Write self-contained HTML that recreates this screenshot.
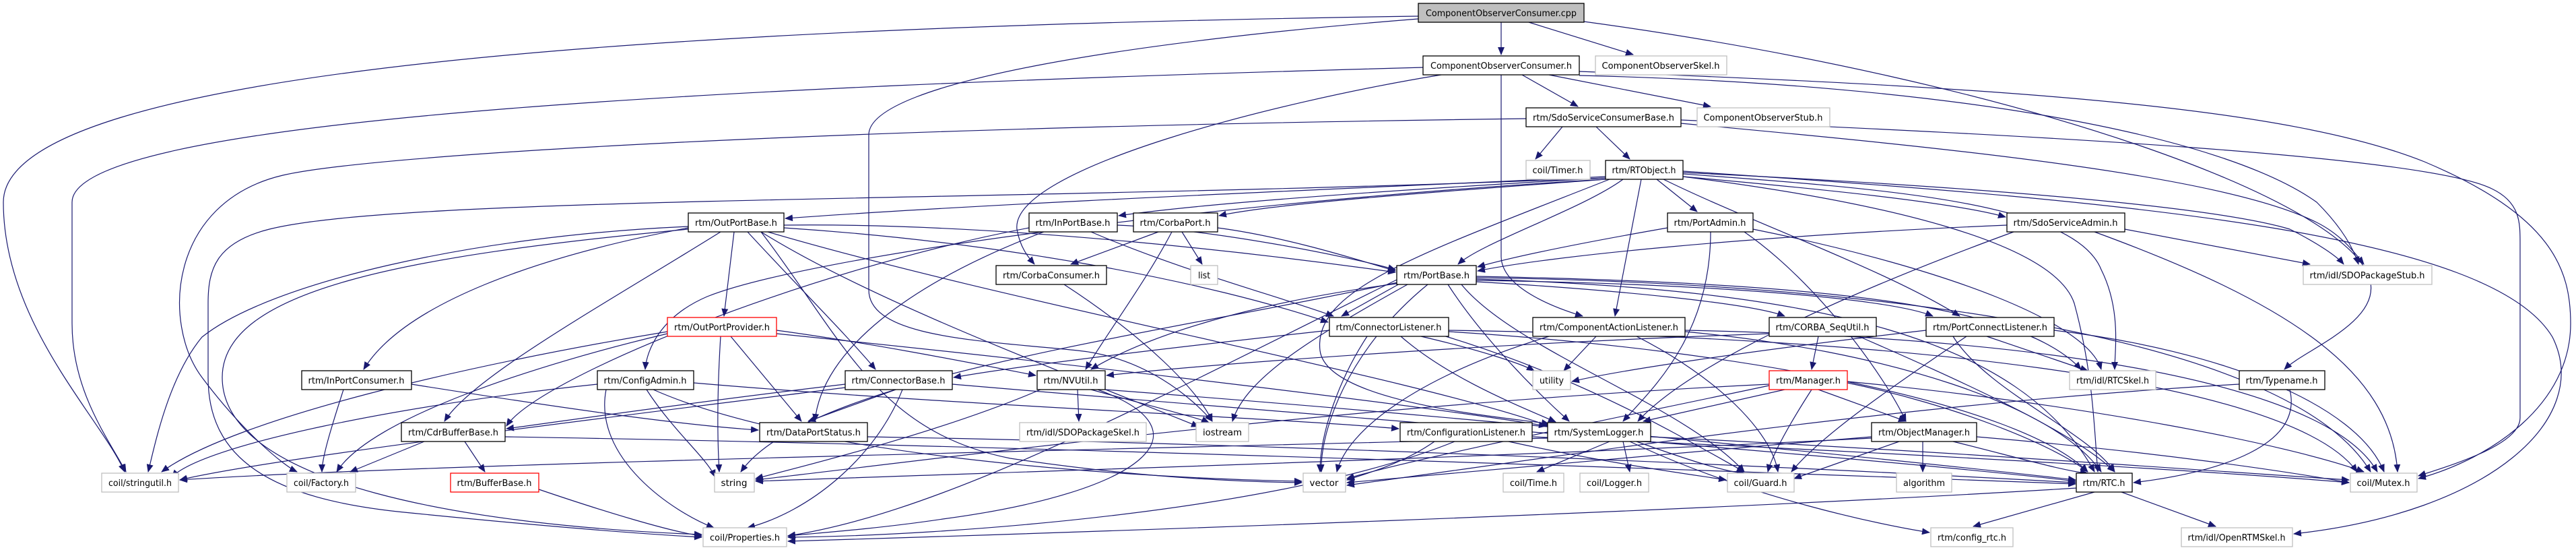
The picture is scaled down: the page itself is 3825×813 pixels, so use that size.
<!DOCTYPE html>
<html><head><meta charset="utf-8"><style>
html,body{margin:0;padding:0;background:#fff;}
svg{display:block;}
text{font-family:"DejaVu Sans","Liberation Sans",sans-serif;font-size:13px;fill:#000;}
.e path{fill:none;stroke:#191970;stroke-width:1.2;}
.n rect{fill:#fff;stroke:#000;stroke-width:1.3;}
.n rect.g{stroke:#bfbfbf;}
.n rect.r{stroke:#ff0000;}
.n rect.c{fill:#bfbfbf;}
</style></head><body>
<svg width="3825" height="813" viewBox="0 0 3825 813" xmlns="http://www.w3.org/2000/svg">
<defs><marker id="a" markerWidth="12" markerHeight="10" refX="11" refY="5" orient="auto" markerUnits="userSpaceOnUse"><path d="M0,0 L12,5 L0,10z" fill="#191970"/></marker></defs>
<g class="e" marker-end="url(#a)">
<path d="M2229,33 L2229,81" marker-end="url(#a)"/>
<path d="M2270,33 L2425,81" marker-end="url(#a)"/>
<path d="M2106,24 C1000,40 5,100 5,300 C5,480 150,620 185,700" marker-end="url(#a)"/>
<path d="M2106,28 C1700,60 1290,120 1290,200 L1290,430 C1290,500 1450,505 1600,520 C1700,530 1770,590 1800,625" marker-end="url(#a)"/>
<path d="M2352,32 C3000,120 3500,300 3520,420 C3530,480 3420,520 3392,548" marker-end="url(#a)"/>
<path d="M2260,111 L2343,158" marker-end="url(#a)"/>
<path d="M2300,111 L2540,158" marker-end="url(#a)"/>
<path d="M2229,111 L2229,380 C2229,430 2320,460 2350,469" marker-end="url(#a)"/>
<path d="M2114,100 C1000,130 107,180 107,300 L107,480 C107,580 160,650 187,700" marker-end="url(#a)"/>
<path d="M2140,111 C1900,150 1500,250 1510,340 C1515,370 1530,385 1536,392" marker-end="url(#a)"/>
<path d="M2345,112 C2900,125 3300,200 3440,300 C3480,340 3495,370 3502,392" marker-end="url(#a)"/>
<path d="M2345,106 C3000,130 3400,160 3600,240 C3790,320 3817,400 3817,480 C3817,600 3700,680 3591,710" marker-end="url(#a)"/>
<path d="M2266,176 C1200,190 550,230 420,260 C250,300 240,480 300,560 C360,640 420,690 441,700" marker-end="url(#a)"/>
<path d="M2320,188 L2280,236" marker-end="url(#a)"/>
<path d="M2370,188 L2420,236" marker-end="url(#a)"/>
<path d="M2496,183 C2900,220 3300,260 3440,330 C3480,350 3500,380 3510,392" marker-end="url(#a)"/>
<path d="M2496,178 C3000,200 3600,230 3700,280 C3742,300 3742,330 3742,360 L3742,620 C3742,660 3640,690 3591,706" marker-end="url(#a)"/>
<path d="M2460,266 L2520,314" marker-end="url(#a)"/>
<path d="M2410,266 C2350,310 2200,360 2165,392" marker-end="url(#a)"/>
<path d="M2437,266 L2398,469" marker-end="url(#a)"/>
<path d="M2384,262 C2000,280 1500,300 1166,324" marker-end="url(#a)"/>
<path d="M2384,264 C2100,280 1800,300 1661,320" marker-end="url(#a)"/>
<path d="M2384,266 C2200,280 1900,300 1810,320" marker-end="url(#a)"/>
<path d="M2384,266 C1800,300 1200,380 1050,440 C980,470 960,520 958,548" marker-end="url(#a)"/>
<path d="M2384,264 C1500,300 600,290 400,340 C320,360 309,400 309,450 L309,560 C309,680 400,740 600,760 C800,780 950,792 1042,797" marker-end="url(#a)"/>
<path d="M2499,262 C2800,300 3050,360 3080,450 C3110,560 3110,650 3115,700" marker-end="url(#a)"/>
<path d="M2499,258 C2800,280 3080,300 3120,400 C3150,460 3140,520 3140,548" marker-end="url(#a)"/>
<path d="M2499,256 C3000,280 3300,310 3400,340 C3440,360 3470,380 3480,392" marker-end="url(#a)"/>
<path d="M2499,254 C3200,300 3700,350 3790,500 C3850,620 3700,760 3406,792" marker-end="url(#a)"/>
<path d="M2470,266 C2600,330 2800,400 2910,469" marker-end="url(#a)"/>
<path d="M2499,262 C2700,280 2900,300 2978,322" marker-end="url(#a)"/>
<path d="M2390,266 C2100,380 1950,430 1960,520 C1970,600 2250,620 2300,629" marker-end="url(#a)"/>
<path d="M2476,338 C2350,360 2250,380 2194,396" marker-end="url(#a)"/>
<path d="M2540,344 C2540,500 2450,580 2410,625" marker-end="url(#a)"/>
<path d="M2590,344 C2700,420 2800,560 2830,625" marker-end="url(#a)"/>
<path d="M2603,340 C2900,400 3100,480 3120,548" marker-end="url(#a)"/>
<path d="M3155,340 L3430,392" marker-end="url(#a)"/>
<path d="M3110,344 C3400,450 3550,550 3560,700" marker-end="url(#a)"/>
<path d="M2990,344 C2700,450 2500,550 2432,625" marker-end="url(#a)"/>
<path d="M2980,334 C2600,350 2300,380 2194,402" marker-end="url(#a)"/>
<path d="M2080,420 L1992,469" marker-end="url(#a)"/>
<path d="M2192,418 C2400,430 2600,450 2650,469" marker-end="url(#a)"/>
<path d="M2192,416 C2500,420 2800,440 2870,469" marker-end="url(#a)"/>
<path d="M2080,420 C1850,450 1700,500 1620,548" marker-end="url(#a)"/>
<path d="M2150,422 C2200,500 2280,580 2330,625" marker-end="url(#a)"/>
<path d="M2170,422 C2250,520 2500,600 2590,700" marker-end="url(#a)"/>
<path d="M2192,412 C2800,420 3400,500 3520,700" marker-end="url(#a)"/>
<path d="M2192,414 C2700,430 3000,500 3110,700" marker-end="url(#a)"/>
<path d="M2192,410 C2700,420 3000,450 3090,548" marker-end="url(#a)"/>
<path d="M2080,418 C1700,500 1200,560 1100,700" marker-end="url(#a)"/>
<path d="M2120,422 C2000,520 1960,640 1962,700" marker-end="url(#a)"/>
<path d="M2090,422 C1950,500 1850,560 1830,625" marker-end="url(#a)"/>
<path d="M2074,415 C1700,600 1400,760 1170,795" marker-end="url(#a)"/>
<path d="M2110,499 C2200,520 2260,540 2278,550" marker-end="url(#a)"/>
<path d="M2030,499 C1990,560 1960,640 1960,700" marker-end="url(#a)"/>
<path d="M2080,499 C2150,560 2250,600 2310,626" marker-end="url(#a)"/>
<path d="M2140,497 C2350,560 2500,650 2590,700" marker-end="url(#a)"/>
<path d="M1974,490 C1700,520 1500,545 1416,560" marker-end="url(#a)"/>
<path d="M2151,492 C2600,520 3000,600 3100,700" marker-end="url(#a)"/>
<path d="M2151,490 C2800,500 3400,560 3500,700" marker-end="url(#a)"/>
<path d="M2370,499 L2322,550" marker-end="url(#a)"/>
<path d="M2300,499 C2100,560 2000,640 1985,700" marker-end="url(#a)"/>
<path d="M2430,499 C2550,560 2630,640 2640,700" marker-end="url(#a)"/>
<path d="M2502,492 C2800,520 3050,600 3120,700" marker-end="url(#a)"/>
<path d="M2502,490 C3000,500 3450,560 3530,700" marker-end="url(#a)"/>
<path d="M2700,499 L2690,548" marker-end="url(#a)"/>
<path d="M2627,495 C2200,510 1800,540 1643,557" marker-end="url(#a)"/>
<path d="M2760,499 C2900,560 3080,640 3140,700" marker-end="url(#a)"/>
<path d="M2950,499 L3100,550" marker-end="url(#a)"/>
<path d="M2900,499 C2950,580 3100,640 3140,700" marker-end="url(#a)"/>
<path d="M3050,490 C3300,520 3500,600 3540,700" marker-end="url(#a)"/>
<path d="M2920,499 C2800,580 2700,650 2660,700" marker-end="url(#a)"/>
<path d="M2860,490 C2600,520 2400,550 2334,566" marker-end="url(#a)"/>
<path d="M1090,344 L1075,469" marker-end="url(#a)"/>
<path d="M1110,344 C1180,420 1260,500 1300,548" marker-end="url(#a)"/>
<path d="M1070,344 C900,450 700,560 660,625" marker-end="url(#a)"/>
<path d="M1022,338 C800,380 600,450 540,548" marker-end="url(#a)"/>
<path d="M1022,336 C700,350 400,420 300,500 C250,560 230,660 220,700" marker-end="url(#a)"/>
<path d="M1022,340 C600,380 330,430 330,560 C330,720 700,780 1042,793" marker-end="url(#a)"/>
<path d="M1164,334 C1500,330 1900,380 2072,404" marker-end="url(#a)"/>
<path d="M1164,338 C1500,360 1800,420 1972,478" marker-end="url(#a)"/>
<path d="M1140,344 C1500,450 2100,560 2300,632" marker-end="url(#a)"/>
<path d="M1130,344 C1300,450 1600,560 1780,633" marker-end="url(#a)"/>
<path d="M1130,344 C1250,500 1300,640 1500,680 C1700,710 1850,715 1933,716" marker-end="url(#a)"/>
<path d="M1659,334 C1800,340 2000,380 2072,400" marker-end="url(#a)"/>
<path d="M1550,344 C1350,420 1220,520 1210,625" marker-end="url(#a)"/>
<path d="M1528,338 C1200,400 800,560 752,632" marker-end="url(#a)"/>
<path d="M1620,344 C1750,400 1900,440 1980,469" marker-end="url(#a)"/>
<path d="M1720,344 L1590,392" marker-end="url(#a)"/>
<path d="M1755,344 L1785,392" marker-end="url(#a)"/>
<path d="M1740,344 C1700,420 1640,500 1612,548" marker-end="url(#a)"/>
<path d="M1808,338 C1900,350 2000,380 2072,402" marker-end="url(#a)"/>
<path d="M1580,422 C1700,500 1780,580 1800,625" marker-end="url(#a)"/>
<path d="M1085,499 L1190,625" marker-end="url(#a)"/>
<path d="M1070,499 C1065,580 1065,650 1068,700" marker-end="url(#a)"/>
<path d="M1153,490 C1300,510 1450,540 1538,557" marker-end="url(#a)"/>
<path d="M991,495 C800,540 550,620 500,700" marker-end="url(#a)"/>
<path d="M991,492 C700,540 350,620 240,700" marker-end="url(#a)"/>
<path d="M1153,495 C1600,540 2100,600 2296,632" marker-end="url(#a)"/>
<path d="M960,578 C1000,640 1050,680 1062,708" marker-end="url(#a)"/>
<path d="M900,578 C880,680 1000,760 1060,783" marker-end="url(#a)"/>
<path d="M887,570 C600,600 300,660 255,708" marker-end="url(#a)"/>
<path d="M1030,568 C1400,600 1900,620 2077,636" marker-end="url(#a)"/>
<path d="M970,578 C1200,680 1700,710 1933,714" marker-end="url(#a)"/>
<path d="M1330,578 L1200,625" marker-end="url(#a)"/>
<path d="M1340,578 C1300,680 1200,760 1110,783" marker-end="url(#a)"/>
<path d="M1255,570 C1000,600 800,630 752,636" marker-end="url(#a)"/>
<path d="M1255,575 C900,620 400,680 267,712" marker-end="url(#a)"/>
<path d="M1414,570 C2000,620 2800,680 3082,714" marker-end="url(#a)"/>
<path d="M1600,578 L1602,625" marker-end="url(#a)"/>
<path d="M1620,578 C1700,600 1780,620 1795,627" marker-end="url(#a)"/>
<path d="M1545,578 C1400,640 1200,690 1122,710" marker-end="url(#a)"/>
<path d="M1630,578 C1800,640 1700,730 1400,770 C1300,785 1200,792 1170,795" marker-end="url(#a)"/>
<path d="M1641,578 C2200,620 2800,680 3082,712" marker-end="url(#a)"/>
<path d="M510,578 C490,640 478,680 478,700" marker-end="url(#a)"/>
<path d="M611,570 C800,600 1000,630 1126,638" marker-end="url(#a)"/>
<path d="M690,655 L720,700" marker-end="url(#a)"/>
<path d="M630,655 L520,700" marker-end="url(#a)"/>
<path d="M750,648 C1500,660 2600,700 3082,718" marker-end="url(#a)"/>
<path d="M800,726 C900,760 1000,790 1042,795" marker-end="url(#a)"/>
<path d="M1288,648 C2000,660 2800,700 3082,716" marker-end="url(#a)"/>
<path d="M2130,655 C2080,690 2020,705 2000,712" marker-end="url(#a)"/>
<path d="M2160,655 C1900,760 1400,795 1170,797" marker-end="url(#a)"/>
<path d="M2275,648 C2800,670 3300,700 3488,716" marker-end="url(#a)"/>
<path d="M2240,655 C2400,690 2520,705 2563,712" marker-end="url(#a)"/>
<path d="M2390,655 L2282,700" marker-end="url(#a)"/>
<path d="M2410,655 L2420,700" marker-end="url(#a)"/>
<path d="M2430,655 C2500,680 2560,700 2590,702" marker-end="url(#a)"/>
<path d="M2451,648 C2900,670 3300,700 3488,712" marker-end="url(#a)"/>
<path d="M2420,655 C2600,740 2800,780 2865,790" marker-end="url(#a)"/>
<path d="M2298,650 C1500,670 600,690 267,712" marker-end="url(#a)"/>
<path d="M2700,578 L2830,625" marker-end="url(#a)"/>
<path d="M2650,578 L2440,625" marker-end="url(#a)"/>
<path d="M2690,578 C2650,640 2630,680 2625,700" marker-end="url(#a)"/>
<path d="M2743,568 C2900,600 3050,660 3100,700" marker-end="url(#a)"/>
<path d="M2743,566 C3100,600 3400,660 3510,700" marker-end="url(#a)"/>
<path d="M2627,572 C2400,620 2100,680 2000,710" marker-end="url(#a)"/>
<path d="M2627,570 C2000,600 1400,680 1122,712" marker-end="url(#a)"/>
<path d="M2855,655 L2855,700" marker-end="url(#a)"/>
<path d="M2820,655 L2664,710" marker-end="url(#a)"/>
<path d="M2900,655 C3000,680 3070,700 3100,702" marker-end="url(#a)"/>
<path d="M2935,648 C3200,670 3400,700 3488,716" marker-end="url(#a)"/>
<path d="M2779,648 C2500,670 2200,700 2000,716" marker-end="url(#a)"/>
<path d="M2779,650 C2200,680 1500,700 1122,714" marker-end="url(#a)"/>
<path d="M3400,578 C3420,660 3300,700 3168,716" marker-end="url(#a)"/>
<path d="M3325,570 C2800,600 2300,680 2000,720" marker-end="url(#a)"/>
<path d="M3110,730 L2930,781" marker-end="url(#a)"/>
<path d="M3150,730 L3290,781" marker-end="url(#a)"/>
<path d="M3084,724 C2500,760 1600,790 1170,803" marker-end="url(#a)"/>
</g>
<g class="n">
<rect class="c" x="2106" y="5" width="246" height="28"/><text x="2229" y="24" text-anchor="middle" textLength="224" lengthAdjust="spacingAndGlyphs">ComponentObserverConsumer.cpp</text>
<rect x="2113" y="83" width="232" height="28"/><text x="2229" y="102" text-anchor="middle" textLength="210" lengthAdjust="spacingAndGlyphs">ComponentObserverConsumer.h</text>
<rect class="g" x="2369" y="83" width="195" height="28"/><text x="2466" y="102" text-anchor="middle" textLength="175" lengthAdjust="spacingAndGlyphs">ComponentObserverSkel.h</text>
<rect x="2266" y="160" width="230" height="28"/><text x="2381" y="179" text-anchor="middle" textLength="210" lengthAdjust="spacingAndGlyphs">rtm/SdoServiceConsumerBase.h</text>
<rect class="g" x="2520" y="160" width="197" height="28"/><text x="2618" y="179" text-anchor="middle" textLength="177" lengthAdjust="spacingAndGlyphs">ComponentObserverStub.h</text>
<rect class="g" x="2266" y="238" width="95" height="28"/><text x="2313" y="257" text-anchor="middle" textLength="75" lengthAdjust="spacingAndGlyphs">coil/Timer.h</text>
<rect x="2384" y="238" width="115" height="28"/><text x="2441" y="257" text-anchor="middle" textLength="95" lengthAdjust="spacingAndGlyphs">rtm/RTObject.h</text>
<rect x="1022" y="316" width="142" height="28"/><text x="1093" y="335" text-anchor="middle" textLength="122" lengthAdjust="spacingAndGlyphs">rtm/OutPortBase.h</text>
<rect x="1528" y="316" width="131" height="28"/><text x="1593" y="335" text-anchor="middle" textLength="111" lengthAdjust="spacingAndGlyphs">rtm/InPortBase.h</text>
<rect x="1683" y="316" width="125" height="28"/><text x="1745" y="335" text-anchor="middle" textLength="105" lengthAdjust="spacingAndGlyphs">rtm/CorbaPort.h</text>
<rect x="2476" y="316" width="127" height="28"/><text x="2539" y="335" text-anchor="middle" textLength="107" lengthAdjust="spacingAndGlyphs">rtm/PortAdmin.h</text>
<rect x="2980" y="316" width="175" height="28"/><text x="3067" y="335" text-anchor="middle" textLength="155" lengthAdjust="spacingAndGlyphs">rtm/SdoServiceAdmin.h</text>
<rect x="1479" y="394" width="164" height="28"/><text x="1561" y="413" text-anchor="middle" textLength="144" lengthAdjust="spacingAndGlyphs">rtm/CorbaConsumer.h</text>
<rect class="g" x="1768" y="394" width="40" height="28"/><text x="1788" y="413" text-anchor="middle" textLength="18" lengthAdjust="spacingAndGlyphs">list</text>
<rect x="2074" y="394" width="118" height="28"/><text x="2133" y="413" text-anchor="middle" textLength="98" lengthAdjust="spacingAndGlyphs">rtm/PortBase.h</text>
<rect class="g" x="3420" y="394" width="191" height="28"/><text x="3515" y="413" text-anchor="middle" textLength="171" lengthAdjust="spacingAndGlyphs">rtm/idl/SDOPackageStub.h</text>
<rect class="r" x="991" y="471" width="162" height="28"/><text x="1072" y="490" text-anchor="middle" textLength="142" lengthAdjust="spacingAndGlyphs">rtm/OutPortProvider.h</text>
<rect x="1974" y="471" width="177" height="28"/><text x="2062" y="490" text-anchor="middle" textLength="157" lengthAdjust="spacingAndGlyphs">rtm/ConnectorListener.h</text>
<rect x="2276" y="471" width="226" height="28"/><text x="2389" y="490" text-anchor="middle" textLength="206" lengthAdjust="spacingAndGlyphs">rtm/ComponentActionListener.h</text>
<rect x="2627" y="471" width="159" height="28"/><text x="2706" y="490" text-anchor="middle" textLength="139" lengthAdjust="spacingAndGlyphs">rtm/CORBA_SeqUtil.h</text>
<rect x="2860" y="471" width="190" height="28"/><text x="2955" y="490" text-anchor="middle" textLength="170" lengthAdjust="spacingAndGlyphs">rtm/PortConnectListener.h</text>
<rect x="448" y="550" width="163" height="28"/><text x="529" y="569" text-anchor="middle" textLength="143" lengthAdjust="spacingAndGlyphs">rtm/InPortConsumer.h</text>
<rect x="887" y="550" width="143" height="28"/><text x="958" y="569" text-anchor="middle" textLength="123" lengthAdjust="spacingAndGlyphs">rtm/ConfigAdmin.h</text>
<rect x="1255" y="550" width="159" height="28"/><text x="1334" y="569" text-anchor="middle" textLength="139" lengthAdjust="spacingAndGlyphs">rtm/ConnectorBase.h</text>
<rect x="1540" y="550" width="101" height="28"/><text x="1590" y="569" text-anchor="middle" textLength="81" lengthAdjust="spacingAndGlyphs">rtm/NVUtil.h</text>
<rect class="g" x="2276" y="550" width="56" height="28"/><text x="2304" y="569" text-anchor="middle" textLength="36" lengthAdjust="spacingAndGlyphs">utility</text>
<rect class="r" x="2627" y="550" width="116" height="28"/><text x="2685" y="569" text-anchor="middle" textLength="96" lengthAdjust="spacingAndGlyphs">rtm/Manager.h</text>
<rect class="g" x="3073" y="550" width="128" height="28"/><text x="3137" y="569" text-anchor="middle" textLength="108" lengthAdjust="spacingAndGlyphs">rtm/idl/RTCSkel.h</text>
<rect x="3325" y="550" width="127" height="28"/><text x="3388" y="569" text-anchor="middle" textLength="107" lengthAdjust="spacingAndGlyphs">rtm/Typename.h</text>
<rect x="596" y="627" width="154" height="28"/><text x="673" y="646" text-anchor="middle" textLength="134" lengthAdjust="spacingAndGlyphs">rtm/CdrBufferBase.h</text>
<rect x="1128" y="627" width="160" height="28"/><text x="1208" y="646" text-anchor="middle" textLength="140" lengthAdjust="spacingAndGlyphs">rtm/DataPortStatus.h</text>
<rect class="g" x="1514" y="627" width="188" height="28"/><text x="1608" y="646" text-anchor="middle" textLength="168" lengthAdjust="spacingAndGlyphs">rtm/idl/SDOPackageSkel.h</text>
<rect class="g" x="1776" y="627" width="78" height="28"/><text x="1815" y="646" text-anchor="middle" textLength="58" lengthAdjust="spacingAndGlyphs">iostream</text>
<rect x="2079" y="627" width="196" height="28"/><text x="2177" y="646" text-anchor="middle" textLength="176" lengthAdjust="spacingAndGlyphs">rtm/ConfigurationListener.h</text>
<rect x="2298" y="627" width="153" height="28"/><text x="2374" y="646" text-anchor="middle" textLength="133" lengthAdjust="spacingAndGlyphs">rtm/SystemLogger.h</text>
<rect x="2779" y="627" width="156" height="28"/><text x="2857" y="646" text-anchor="middle" textLength="136" lengthAdjust="spacingAndGlyphs">rtm/ObjectManager.h</text>
<rect class="g" x="151" y="702" width="114" height="28"/><text x="208" y="721" text-anchor="middle" textLength="94" lengthAdjust="spacingAndGlyphs">coil/stringutil.h</text>
<rect class="g" x="426" y="702" width="102" height="28"/><text x="477" y="721" text-anchor="middle" textLength="82" lengthAdjust="spacingAndGlyphs">coil/Factory.h</text>
<rect class="r" x="669" y="702" width="131" height="28"/><text x="734" y="721" text-anchor="middle" textLength="111" lengthAdjust="spacingAndGlyphs">rtm/BufferBase.h</text>
<rect class="g" x="1061" y="702" width="59" height="28"/><text x="1090" y="721" text-anchor="middle" textLength="39" lengthAdjust="spacingAndGlyphs">string</text>
<rect class="g" x="1935" y="702" width="63" height="28"/><text x="1966" y="721" text-anchor="middle" textLength="43" lengthAdjust="spacingAndGlyphs">vector</text>
<rect class="g" x="2232" y="702" width="90" height="28"/><text x="2277" y="721" text-anchor="middle" textLength="70" lengthAdjust="spacingAndGlyphs">coil/Time.h</text>
<rect class="g" x="2346" y="702" width="102" height="28"/><text x="2397" y="721" text-anchor="middle" textLength="82" lengthAdjust="spacingAndGlyphs">coil/Logger.h</text>
<rect class="g" x="2565" y="702" width="99" height="28"/><text x="2614" y="721" text-anchor="middle" textLength="79" lengthAdjust="spacingAndGlyphs">coil/Guard.h</text>
<rect class="g" x="2816" y="702" width="82" height="28"/><text x="2857" y="721" text-anchor="middle" textLength="62" lengthAdjust="spacingAndGlyphs">algorithm</text>
<rect x="3083" y="702" width="83" height="28"/><text x="3124" y="721" text-anchor="middle" textLength="63" lengthAdjust="spacingAndGlyphs">rtm/RTC.h</text>
<rect class="g" x="3490" y="702" width="99" height="28"/><text x="3539" y="721" text-anchor="middle" textLength="79" lengthAdjust="spacingAndGlyphs">coil/Mutex.h</text>
<rect class="g" x="1044" y="783" width="124" height="28"/><text x="1106" y="802" text-anchor="middle" textLength="104" lengthAdjust="spacingAndGlyphs">coil/Properties.h</text>
<rect class="g" x="2867" y="783" width="122" height="28"/><text x="2928" y="802" text-anchor="middle" textLength="102" lengthAdjust="spacingAndGlyphs">rtm/config_rtc.h</text>
<rect class="g" x="3239" y="783" width="165" height="28"/><text x="3321" y="802" text-anchor="middle" textLength="145" lengthAdjust="spacingAndGlyphs">rtm/idl/OpenRTMSkel.h</text>
</g>
</svg>
</body></html>
